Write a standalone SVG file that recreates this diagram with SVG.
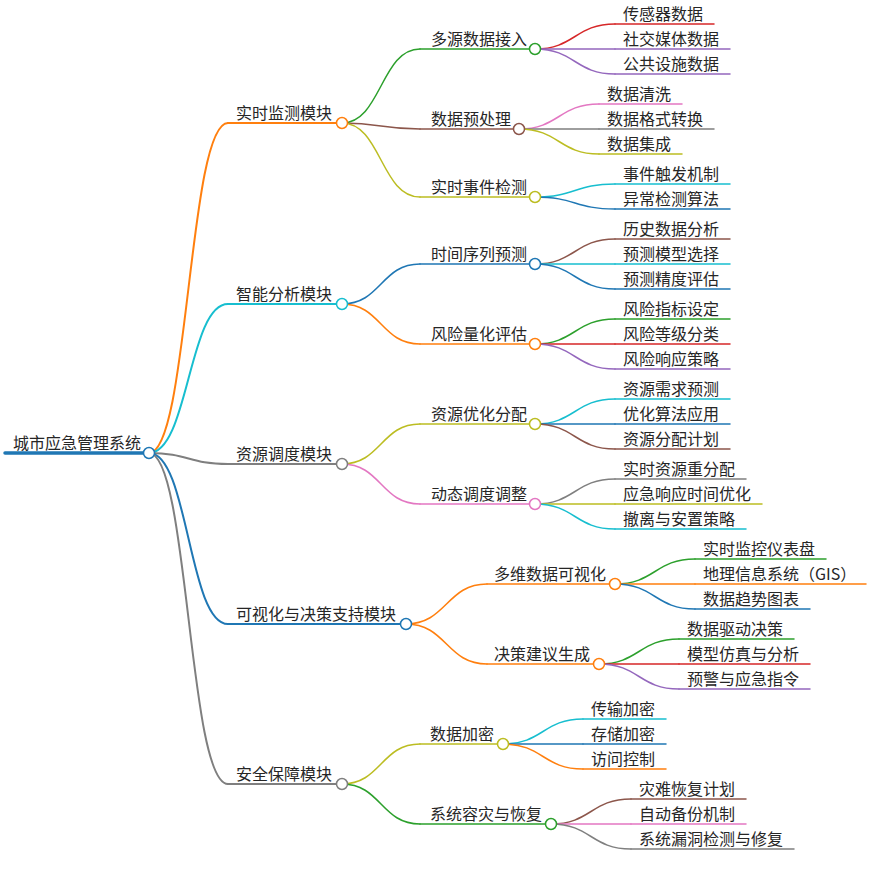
<svg xmlns="http://www.w3.org/2000/svg" width="872" height="875" viewBox="0 0 872 875">
<style>
text{font-family:"Noto Sans CJK SC","Noto Sans",sans-serif;font-size:16px;fill:#262626}
path,line{fill:none;stroke-linecap:round}
.l1{stroke-width:2}
.l2,.l3{stroke-width:1.5}
circle{fill:#fff;stroke-width:1.5}
.blue{stroke:#1f77b4}.orange{stroke:#ff7f0e}.green{stroke:#2ca02c}.red{stroke:#d62728}.purple{stroke:#9467bd}
.brown{stroke:#8c564b}.pink{stroke:#e377c2}.gray{stroke:#7f7f7f}.olive{stroke:#bcbd22}.cyan{stroke:#17becf}
</style>
<rect width="872" height="875" fill="#fff"/>
<g id="connectors">
<path class="l1 orange" d="M149,453 C188.5,453 188.5,123 228,123"/>
<path class="l1 cyan" d="M149,453 C188.5,453 188.5,304 228,304"/>
<path class="l1 gray" d="M149,453 C188.5,453 188.5,464 228,464"/>
<path class="l1 blue" d="M149,453 C188.5,453 188.5,624 228,624"/>
<path class="l1 gray" d="M149,453 C188.5,453 188.5,784 228,784"/>
<path class="l2 green" d="M342,123 C381,123 381,49 420,49"/>
<path class="l2 brown" d="M342,123 C381,123 381,129 420,129"/>
<path class="l2 olive" d="M342,123 C381,123 381,197 420,197"/>
<path class="l2 blue" d="M342,304 C381,304 381,264 420,264"/>
<path class="l2 orange" d="M342,304 C381,304 381,344 420,344"/>
<path class="l2 olive" d="M342,464 C381,464 381,424 420,424"/>
<path class="l2 pink" d="M342,464 C381,464 381,504 420,504"/>
<path class="l2 orange" d="M406,624 C446.5,624 446.5,584 487,584"/>
<path class="l2 orange" d="M406,624 C446.5,624 446.5,664 487,664"/>
<path class="l2 olive" d="M342,784 C381,784 381,744 420,744"/>
<path class="l2 green" d="M342,784 C381,784 381,824 420,824"/>
<path class="l3 red" d="M535,49 C575,49 575,24 615,24"/>
<path class="l3 purple" d="M535,49 C575,49 575,49 615,49"/>
<path class="l3 purple" d="M535,49 C575,49 575,74 615,74"/>
<path class="l3 pink" d="M519,129 C559,129 559,104 599,104"/>
<path class="l3 gray" d="M519,129 C559,129 559,129 599,129"/>
<path class="l3 olive" d="M519,129 C559,129 559,154 599,154"/>
<path class="l3 cyan" d="M535,197 C575,197 575,184 615,184"/>
<path class="l3 blue" d="M535,197 C575,197 575,209 615,209"/>
<path class="l3 brown" d="M535,264 C575,264 575,239 615,239"/>
<path class="l3 cyan" d="M535,264 C575,264 575,264 615,264"/>
<path class="l3 blue" d="M535,264 C575,264 575,289 615,289"/>
<path class="l3 green" d="M535,344 C575,344 575,319 615,319"/>
<path class="l3 red" d="M535,344 C575,344 575,344 615,344"/>
<path class="l3 purple" d="M535,344 C575,344 575,369 615,369"/>
<path class="l3 cyan" d="M535,424 C575,424 575,399 615,399"/>
<path class="l3 blue" d="M535,424 C575,424 575,424 615,424"/>
<path class="l3 brown" d="M535,424 C575,424 575,449 615,449"/>
<path class="l3 gray" d="M535,504 C575,504 575,479 615,479"/>
<path class="l3 olive" d="M535,504 C575,504 575,504 615,504"/>
<path class="l3 cyan" d="M535,504 C575,504 575,529 615,529"/>
<path class="l3 green" d="M615,584 C655,584 655,559 695,559"/>
<path class="l3 orange" d="M615,584 C655,584 655,584 695,584"/>
<path class="l3 blue" d="M615,584 C655,584 655,609 695,609"/>
<path class="l3 green" d="M599,664 C639,664 639,639 679,639"/>
<path class="l3 red" d="M599,664 C639,664 639,664 679,664"/>
<path class="l3 purple" d="M599,664 C639,664 639,689 679,689"/>
<path class="l3 cyan" d="M503,744 C543,744 543,719 583,719"/>
<path class="l3 blue" d="M503,744 C543,744 543,744 583,744"/>
<path class="l3 orange" d="M503,744 C543,744 543,769 583,769"/>
<path class="l3 brown" d="M551,824 C591,824 591,799 631,799"/>
<path class="l3 pink" d="M551,824 C591,824 591,824 631,824"/>
<path class="l3 gray" d="M551,824 C591,824 591,849 631,849"/>
</g>
<g id="root"><line x1="5" y1="453" x2="149" y2="453" stroke="#1f77b4" stroke-width="3.5"/><text x="13" y="449">城市应急管理系统</text><circle class="blue" cx="149" cy="453" r="5.5"/></g>

<g id="n1"><line class="l1 orange" x1="228" y1="123" x2="342" y2="123"/><text x="236" y="119">实时监测模块</text><circle class="orange" cx="342" cy="123" r="5.5"/></g>
<g id="n1-1"><line class="l2 green" x1="420" y1="49" x2="535" y2="49"/><text x="431" y="45">多源数据接入</text><circle class="green" cx="535" cy="49" r="5.5"/></g>
<g id="n1-1-1"><line class="l3 red" x1="615" y1="24" x2="714" y2="24"/><text x="623" y="20">传感器数据</text></g>
<g id="n1-1-2"><line class="l3 purple" x1="615" y1="49" x2="730" y2="49"/><text x="623" y="45">社交媒体数据</text></g>
<g id="n1-1-3"><line class="l3 purple" x1="615" y1="74" x2="730" y2="74"/><text x="623" y="70">公共设施数据</text></g>
<g id="n1-2"><line class="l2 brown" x1="420" y1="129" x2="519" y2="129"/><text x="431" y="125">数据预处理</text><circle class="brown" cx="519" cy="129" r="5.5"/></g>
<g id="n1-2-1"><line class="l3 pink" x1="599" y1="104" x2="682" y2="104"/><text x="607" y="100">数据清洗</text></g>
<g id="n1-2-2"><line class="l3 gray" x1="599" y1="129" x2="714" y2="129"/><text x="607" y="125">数据格式转换</text></g>
<g id="n1-2-3"><line class="l3 olive" x1="599" y1="154" x2="682" y2="154"/><text x="607" y="150">数据集成</text></g>
<g id="n1-3"><line class="l2 olive" x1="420" y1="197" x2="535" y2="197"/><text x="431" y="193">实时事件检测</text><circle class="olive" cx="535" cy="197" r="5.5"/></g>
<g id="n1-3-1"><line class="l3 cyan" x1="615" y1="184" x2="730" y2="184"/><text x="623" y="180">事件触发机制</text></g>
<g id="n1-3-2"><line class="l3 blue" x1="615" y1="209" x2="730" y2="209"/><text x="623" y="205">异常检测算法</text></g>

<g id="n2"><line class="l1 cyan" x1="228" y1="304" x2="342" y2="304"/><text x="236" y="300">智能分析模块</text><circle class="cyan" cx="342" cy="304" r="5.5"/></g>
<g id="n2-1"><line class="l2 blue" x1="420" y1="264" x2="535" y2="264"/><text x="431" y="260">时间序列预测</text><circle class="blue" cx="535" cy="264" r="5.5"/></g>
<g id="n2-1-1"><line class="l3 brown" x1="615" y1="239" x2="730" y2="239"/><text x="623" y="235">历史数据分析</text></g>
<g id="n2-1-2"><line class="l3 cyan" x1="615" y1="264" x2="730" y2="264"/><text x="623" y="260">预测模型选择</text></g>
<g id="n2-1-3"><line class="l3 blue" x1="615" y1="289" x2="730" y2="289"/><text x="623" y="285">预测精度评估</text></g>
<g id="n2-2"><line class="l2 orange" x1="420" y1="344" x2="535" y2="344"/><text x="431" y="340">风险量化评估</text><circle class="orange" cx="535" cy="344" r="5.5"/></g>
<g id="n2-2-1"><line class="l3 green" x1="615" y1="319" x2="730" y2="319"/><text x="623" y="315">风险指标设定</text></g>
<g id="n2-2-2"><line class="l3 red" x1="615" y1="344" x2="730" y2="344"/><text x="623" y="340">风险等级分类</text></g>
<g id="n2-2-3"><line class="l3 purple" x1="615" y1="369" x2="730" y2="369"/><text x="623" y="365">风险响应策略</text></g>

<g id="n3"><line class="l1 gray" x1="228" y1="464" x2="342" y2="464"/><text x="236" y="460">资源调度模块</text><circle class="gray" cx="342" cy="464" r="5.5"/></g>
<g id="n3-1"><line class="l2 olive" x1="420" y1="424" x2="535" y2="424"/><text x="431" y="420">资源优化分配</text><circle class="olive" cx="535" cy="424" r="5.5"/></g>
<g id="n3-1-1"><line class="l3 cyan" x1="615" y1="399" x2="730" y2="399"/><text x="623" y="395">资源需求预测</text></g>
<g id="n3-1-2"><line class="l3 blue" x1="615" y1="424" x2="730" y2="424"/><text x="623" y="420">优化算法应用</text></g>
<g id="n3-1-3"><line class="l3 brown" x1="615" y1="449" x2="730" y2="449"/><text x="623" y="445">资源分配计划</text></g>
<g id="n3-2"><line class="l2 pink" x1="420" y1="504" x2="535" y2="504"/><text x="431" y="500">动态调度调整</text><circle class="pink" cx="535" cy="504" r="5.5"/></g>
<g id="n3-2-1"><line class="l3 gray" x1="615" y1="479" x2="746" y2="479"/><text x="623" y="475">实时资源重分配</text></g>
<g id="n3-2-2"><line class="l3 olive" x1="615" y1="504" x2="762" y2="504"/><text x="623" y="500">应急响应时间优化</text></g>
<g id="n3-2-3"><line class="l3 cyan" x1="615" y1="529" x2="746" y2="529"/><text x="623" y="525">撤离与安置策略</text></g>

<g id="n4"><line class="l1 blue" x1="228" y1="624" x2="406" y2="624"/><text x="236" y="620">可视化与决策支持模块</text><circle class="blue" cx="406" cy="624" r="5.5"/></g>
<g id="n4-1"><line class="l2 orange" x1="487" y1="584" x2="615" y2="584"/><text x="494" y="580">多维数据可视化</text><circle class="orange" cx="615" cy="584" r="5.5"/></g>
<g id="n4-1-1"><line class="l3 green" x1="695" y1="559" x2="826" y2="559"/><text x="703" y="555">实时监控仪表盘</text></g>
<g id="n4-1-2"><line class="l3 orange" x1="695" y1="584" x2="866" y2="584"/><text x="703" y="580">地理信息系统（GIS）</text></g>
<g id="n4-1-3"><line class="l3 blue" x1="695" y1="609" x2="810" y2="609"/><text x="703" y="605">数据趋势图表</text></g>
<g id="n4-2"><line class="l2 orange" x1="487" y1="664" x2="599" y2="664"/><text x="494" y="660">决策建议生成</text><circle class="orange" cx="599" cy="664" r="5.5"/></g>
<g id="n4-2-1"><line class="l3 green" x1="679" y1="639" x2="794" y2="639"/><text x="687" y="635">数据驱动决策</text></g>
<g id="n4-2-2"><line class="l3 red" x1="679" y1="664" x2="810" y2="664"/><text x="687" y="660">模型仿真与分析</text></g>
<g id="n4-2-3"><line class="l3 purple" x1="679" y1="689" x2="810" y2="689"/><text x="687" y="685">预警与应急指令</text></g>

<g id="n5"><line class="l1 gray" x1="228" y1="784" x2="342" y2="784"/><text x="236" y="780">安全保障模块</text><circle class="gray" cx="342" cy="784" r="5.5"/></g>
<g id="n5-1"><line class="l2 olive" x1="420" y1="744" x2="503" y2="744"/><text x="430" y="740">数据加密</text><circle class="olive" cx="503" cy="744" r="5.5"/></g>
<g id="n5-1-1"><line class="l3 cyan" x1="583" y1="719" x2="666" y2="719"/><text x="591" y="715">传输加密</text></g>
<g id="n5-1-2"><line class="l3 blue" x1="583" y1="744" x2="666" y2="744"/><text x="591" y="740">存储加密</text></g>
<g id="n5-1-3"><line class="l3 orange" x1="583" y1="769" x2="666" y2="769"/><text x="591" y="765">访问控制</text></g>
<g id="n5-2"><line class="l2 green" x1="420" y1="824" x2="551" y2="824"/><text x="430" y="820">系统容灾与恢复</text><circle class="green" cx="551" cy="824" r="5.5"/></g>
<g id="n5-2-1"><line class="l3 brown" x1="631" y1="799" x2="746" y2="799"/><text x="639" y="795">灾难恢复计划</text></g>
<g id="n5-2-2"><line class="l3 pink" x1="631" y1="824" x2="746" y2="824"/><text x="639" y="820">自动备份机制</text></g>
<g id="n5-2-3"><line class="l3 gray" x1="631" y1="849" x2="794" y2="849"/><text x="639" y="845">系统漏洞检测与修复</text></g>
</svg>
